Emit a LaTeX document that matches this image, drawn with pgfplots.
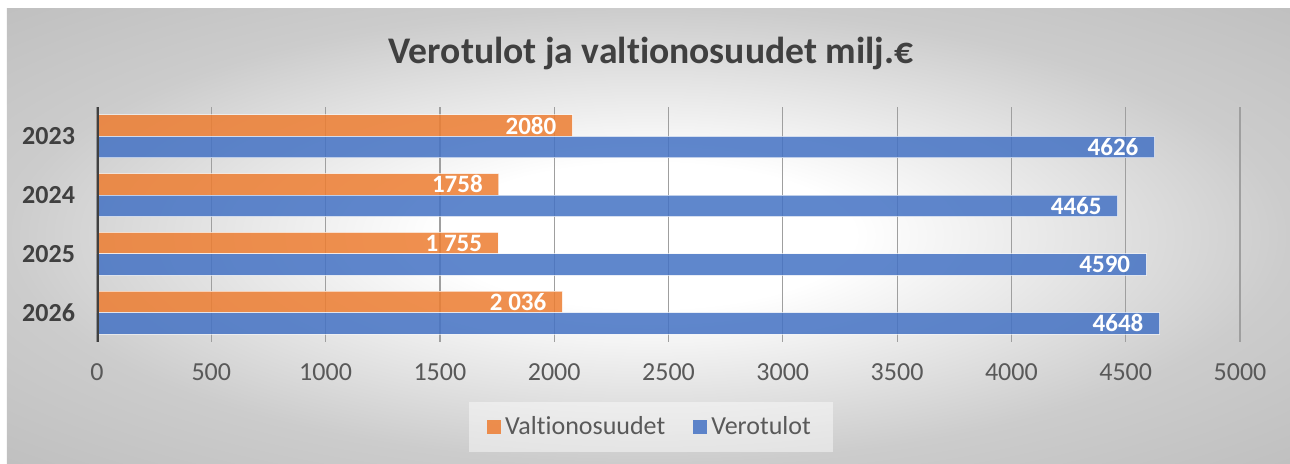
\documentclass[border=0pt]{standalone}
\usepackage{fontspec}
\setmainfont{Carlito}[Ligatures={NoCommon}]
\usepackage{pgfplots}
\pgfplotsset{compat=1.18}
\definecolor{exor}{HTML}{ED7D31}
\definecolor{exbl}{HTML}{4472C4}
\definecolor{txt}{HTML}{404040}
\definecolor{tickc}{HTML}{595959}
\pgfdeclareradialshading{bgshade}{\pgfpoint{0bp}{0bp}}{color(0bp)=(white); color(8bp)=(white); color(25bp)=(gray!40); color(36bp)=(gray!50); color(50bp)=(gray!50)}
\begin{document}
\begin{tikzpicture}
\path[use as bounding box] (-48.5pt,-60.5pt) rectangle (596.5pt,171pt);
\fill[white] (-48.5pt,-60.5pt) rectangle (596.5pt,171pt);
\shade[shading=bgshade] (-45pt,-60.5pt) rectangle (596.5pt,167pt);
\node[font=\bfseries\fontsize{18.8}{21}\selectfont, text=txt] at (277pt,144.5pt) {Verotulot ja valtionosuudet milj.€};
\begin{axis}[at={(0,0)}, anchor=south west, scale only axis,
  width=571.5pt, height=117.5pt,
  xmin=0, xmax=5000, ymin=-0.5, ymax=3.5, y dir=reverse,
  xtick={0,500,1000,1500,2000,2500,3000,3500,4000,4500,5000},
  xticklabels={0,500,1000,1500,2000,2500,3000,3500,4000,4500,5000},
  ytick={0,1,2,3}, yticklabels={2023,2024,2025,2026},
  xmajorgrids, major grid style={color=gray!75, line width=0.6pt},
  major tick length=0pt,
  axis x line*=bottom, axis y line*=left,
  x axis line style={draw=none},
  y axis line style={draw=none},
  x tick label style={font=\fontsize{13}{15}\selectfont, text=tickc, yshift=-7.5pt},
  y tick label style={font=\bfseries\fontsize{13}{15}\selectfont, text=txt, xshift=-7.5pt},
  point meta=explicit symbolic,
  nodes near coords,
  nodes near coords style={anchor=east, xshift=-4.5pt, text=white, fill opacity=1, text opacity=1, font=\bfseries\fontsize{12.5}{14}\selectfont},
  legend style={at={(0.4847,-0.3617)}, anchor=center, legend columns=2, draw=none,
    fill=white, fill opacity=0.45, text opacity=1, inner xsep=9pt, inner ysep=5pt,
    font=\fontsize{13}{15}\selectfont, text=tickc,
    /tikz/every even column/.append style={column sep=12pt}},
  legend image code/.code={\fill[#1, draw=none] (0pt,-3.5pt) rectangle (7pt,3.5pt);},
]
\addplot[xbar, bar width=0.366, bar shift=-0.183, fill=exor, fill opacity=0.85, draw=white, draw opacity=0.6, line width=0.5pt,
  every node near coord/.append style={yshift=5.4pt}]
  coordinates {(2080,0) [2080] (1758,1) [1758] (1755,2) [1 755] (2036,3) [2 036]};
\addlegendentry{Valtionosuudet}
\addplot[xbar, bar width=0.366, bar shift=0.183, fill=exbl, fill opacity=0.85, draw=white, draw opacity=0.6, line width=0.5pt,
  every node near coord/.append style={yshift=-5.4pt}]
  coordinates {(4626,0) [4626] (4465,1) [4465] (4590,2) [4590] (4648,3) [4648]};
\addlegendentry{Verotulot}
\draw[line width=2pt, txt] (rel axis cs:0,0) -- (rel axis cs:0,1);
\end{axis}
\end{tikzpicture}
\end{document}
